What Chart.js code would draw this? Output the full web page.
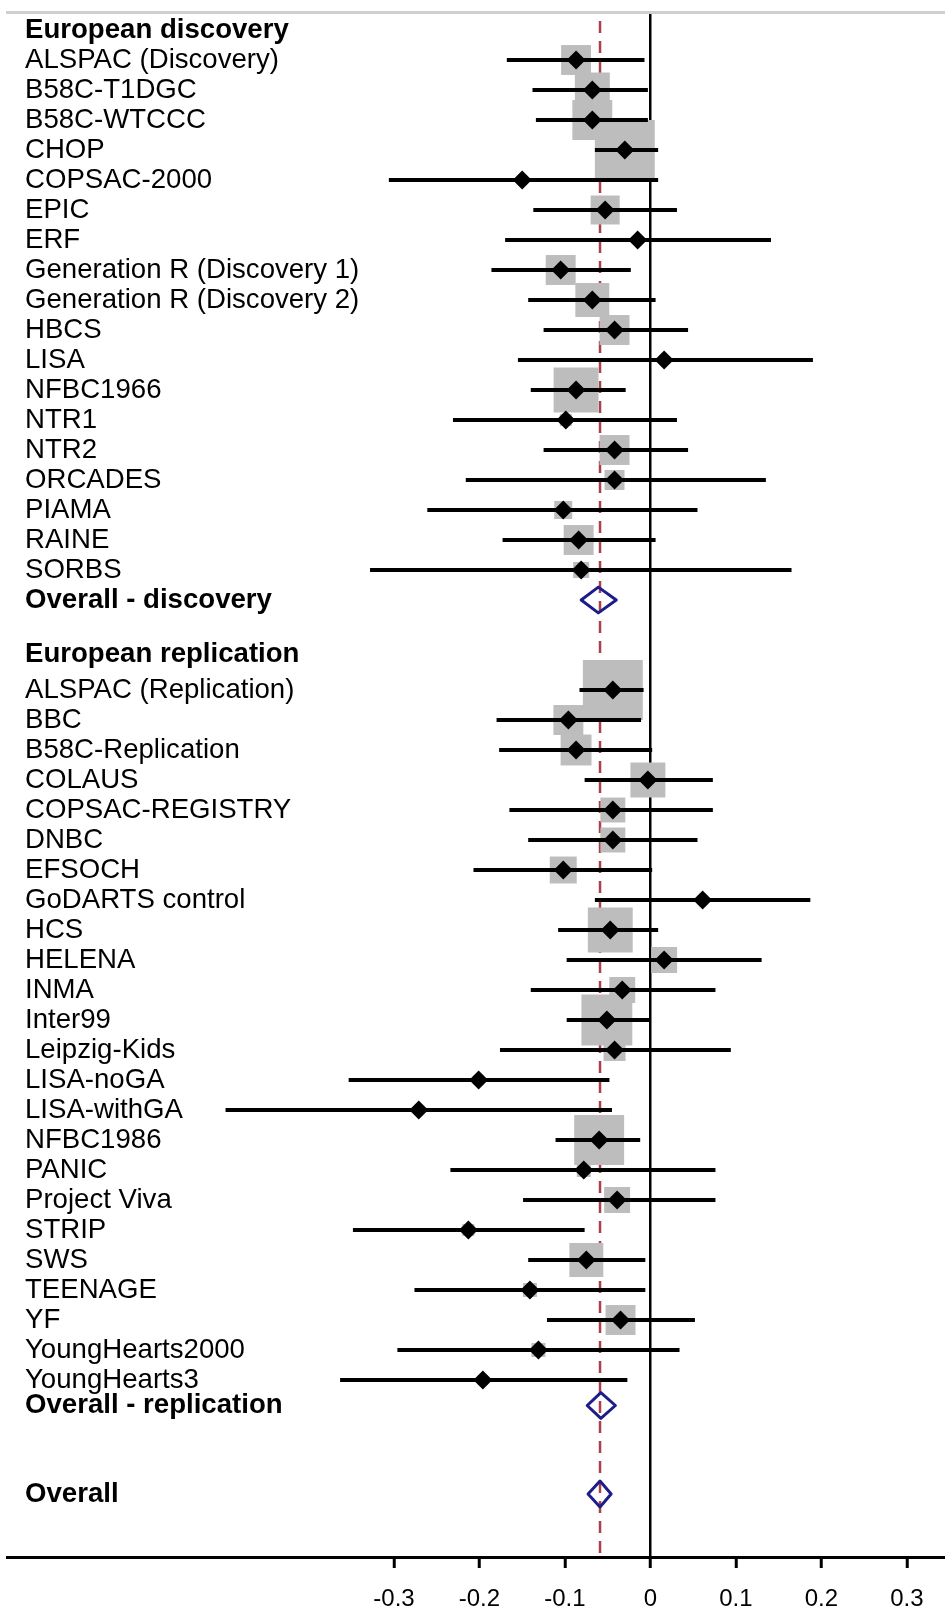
<!DOCTYPE html>
<html>
<head>
<meta charset="utf-8">
<title>Forest plot</title>
<script src="https://cdn.jsdelivr.net/npm/chart.js@4.4.1/dist/chart.umd.min.js"></script>
<style>
  html, body { margin: 0; padding: 0; background: #fff; overflow: hidden; }
  #chart-wrap { position: relative; width: 945px; height: 1613px; }
</style>
</head>
<body>
<div id="chart-wrap"><canvas id="forest-canvas"></canvas></div>
<script>
// Data --- (*1)
const groupTitles = ["European discovery", "European replication"];

const discoveryStudies = [
  "ALSPAC (Discovery)", "B58C-T1DGC", "B58C-WTCCC", "CHOP", "COPSAC-2000", "EPIC", "ERF",
  "Generation R (Discovery 1)", "Generation R (Discovery 2)", "HBCS", "LISA", "NFBC1966",
  "NTR1", "NTR2", "ORCADES", "PIAMA", "RAINE", "SORBS",
];
const discoveryEst = [-0.087, -0.068, -0.068, -0.030, -0.150, -0.053, -0.015, -0.105, -0.068, -0.042, 0.016, -0.087, -0.099, -0.042, -0.042, -0.102, -0.084, -0.081];
const discoveryLo = [-0.168, -0.138, -0.134, -0.065, -0.306, -0.137, -0.170, -0.186, -0.143, -0.125, -0.155, -0.140, -0.231, -0.125, -0.216, -0.261, -0.173, -0.328];
const discoveryHi = [-0.007, -0.003, -0.003, 0.009, 0.009, 0.031, 0.141, -0.023, 0.006, 0.044, 0.190, -0.029, 0.031, 0.044, 0.135, 0.055, 0.006, 0.165];
const discoveryWeight = [2.38, 3.24, 4.23, 9.53, 0.26, 2.23, 0.17, 2.38, 3.06, 2.38, 0.26, 5.36, 0.38, 2.38, 1.06, 0.86, 2.38, 0.68];

const replicationStudies = [
  "ALSPAC (Replication)", "BBC", "B58C-Replication", "COLAUS", "COPSAC-REGISTRY", "DNBC",
  "EFSOCH", "GoDARTS control", "HCS", "HELENA", "INMA", "Inter99", "Leipzig-Kids",
  "LISA-noGA", "LISA-withGA", "NFBC1986", "PANIC", "Project Viva", "STRIP", "SWS",
  "TEENAGE", "YF", "YoungHearts2000", "YoungHearts3",
];
const replicationEst = [-0.044, -0.096, -0.087, -0.003, -0.044, -0.044, -0.102, 0.061, -0.047, 0.016, -0.033, -0.051, -0.042, -0.201, -0.271, -0.060, -0.078, -0.039, -0.213, -0.075, -0.141, -0.035, -0.131, -0.196];
const replicationLo = [-0.083, -0.180, -0.177, -0.077, -0.165, -0.143, -0.207, -0.065, -0.108, -0.098, -0.140, -0.098, -0.176, -0.353, -0.497, -0.111, -0.234, -0.149, -0.348, -0.143, -0.276, -0.121, -0.296, -0.363];
const replicationHi = [-0.008, -0.011, 0.002, 0.073, 0.073, 0.055, 0.002, 0.187, 0.009, 0.130, 0.076, -0.001, 0.094, -0.048, -0.045, -0.012, 0.076, 0.076, -0.077, -0.006, -0.006, 0.052, 0.034, -0.027];
const replicationWeight = [9.53, 2.38, 2.54, 3.24, 1.65, 1.65, 1.93, 0.26, 5.36, 1.79, 1.79, 6.88, 1.28, 0.26, 0.17, 6.62, 0.52, 1.79, 0.38, 3.06, 0.52, 2.38, 0.52, 0.26];

const pooledLabels = ["Overall - discovery", "Overall - replication", "Overall"];
const pooledEst = [-0.061, -0.058, -0.059];
const pooledLo = [-0.081, -0.074, -0.073];
const pooledHi = [-0.040, -0.041, -0.046];

const xTickValues = [-0.3, -0.2, -0.1, 0, 0.1, 0.2, 0.3];
const xTickLabels = ["-0.3", "-0.2", "-0.1", "0", "0.1", "0.2", "0.3"];

// Layout constants (not data) --- (*2)
const FONT = '"Liberation Sans", Arial, sans-serif';
const X_MIN = -0.7526;
const X_MAX = 0.3445;
const Y_MIN = -0.6;
const Y_MAX = 50.9;
const BOX_SCALE = 19.4;      // box side in px per sqrt(weight)
const POOLED_HALF = 0.43;    // half height of pooled diamonds, in rows

// Build row list: label, vertical slot, bold or not --- (*3)
const rows = [];
const studyRows = [];
rows.push({ label: groupTitles[0], pos: 0, bold: true });
discoveryStudies.forEach((name, i) => {
  const pos = 1 + i;
  rows.push({ label: name, pos });
  studyRows.push({ pos, est: discoveryEst[i], lo: discoveryLo[i], hi: discoveryHi[i], w: discoveryWeight[i] });
});
const pooledPos = [1 + discoveryStudies.length];
rows.push({ label: pooledLabels[0], pos: pooledPos[0], bold: true });
const repStart = pooledPos[0] + 3;
rows.push({ label: groupTitles[1], pos: repStart - 1.2, bold: true });
replicationStudies.forEach((name, i) => {
  const pos = repStart + i;
  rows.push({ label: name, pos });
  studyRows.push({ pos, est: replicationEst[i], lo: replicationLo[i], hi: replicationHi[i], w: replicationWeight[i] });
});
pooledPos.push(repStart + replicationStudies.length - 0.15);
rows.push({ label: pooledLabels[1], pos: pooledPos[1], bold: true });
pooledPos.push(pooledPos[1] + 2.95);
rows.push({ label: pooledLabels[2], pos: pooledPos[2], bold: true });

// Datasets --- (*4)
function buildDatasets() {
  const sets = [];
  // dashed line at the overall estimate
  sets.push({
    data: [{ x: pooledEst[2], y: -0.3 }, { x: pooledEst[2], y: Y_MAX }],
    showLine: true, borderColor: "#a8414c", borderWidth: 2.5, borderDash: [12, 8],
    pointRadius: 0, order: 6,
  });
  // weight boxes
  sets.push({
    data: studyRows.map((r) => ({ x: r.est, y: r.pos })),
    pointStyle: "rect",
    pointRadius: (ctx) => (BOX_SCALE * Math.sqrt(studyRows[ctx.dataIndex].w)) / (2 * Math.SQRT1_2),
    backgroundColor: "#bdbdbd", borderWidth: 0, order: 5,
  });
  // confidence intervals
  studyRows.forEach((r) => {
    sets.push({
      data: [{ x: r.lo, y: r.pos }, { x: r.hi, y: r.pos }],
      showLine: true, borderColor: "#000", borderWidth: 4, borderCapStyle: "butt",
      pointRadius: 0, order: 4,
    });
  });
  // point estimates
  sets.push({
    data: studyRows.map((r) => ({ x: r.est, y: r.pos })),
    pointStyle: "rectRot", pointRadius: 9.5,
    backgroundColor: "#000", borderWidth: 0, order: 3,
  });
  // pooled diamonds
  pooledEst.forEach((est, i) => {
    const y = pooledPos[i];
    sets.push({
      data: [
        { x: pooledLo[i], y }, { x: est, y: y - POOLED_HALF },
        { x: pooledHi[i], y }, { x: est, y: y + POOLED_HALF }, { x: pooledLo[i], y },
      ],
      showLine: true, borderColor: "#1d1d8a", borderWidth: 3,
      borderJoinStyle: "round", borderCapStyle: "round",
      pointRadius: 0, fill: false, order: 1,
    });
  });
  return sets;
}

// Draw the chart --- (*5)
window.addEventListener("DOMContentLoaded", () => {
  const canvas = document.querySelector("#forest-canvas");
  new Chart(canvas, {
    type: "scatter",
    data: { datasets: buildDatasets() },
    options: {
      responsive: true,
      maintainAspectRatio: false,
      animation: false,
      events: [],
      layout: { autoPadding: false, padding: { left: 7, top: 12, right: 0, bottom: 0 } },
      plugins: { legend: { display: false }, tooltip: { enabled: false } },
      scales: {
        x: {
          type: "linear", position: "bottom", min: X_MIN, max: X_MAX,
          afterBuildTicks: (scale) => { scale.ticks = xTickValues.map((v) => ({ value: v })); },
          afterFit: (scale) => { scale.height = 56; },
          grid: {
            color: (ctx) => (ctx.tick && ctx.tick.value === 0 ? "#000" : "rgba(0,0,0,0)"),
            lineWidth: 2.5, drawTicks: true, tickLength: 11, tickColor: "#000", tickWidth: 3,
          },
          border: { display: true, color: "#000", width: 3 },
          ticks: {
            autoSkip: false, maxRotation: 0, padding: 17, color: "#000",
            font: { family: FONT, size: 24 },
            callback: (value, index) => xTickLabels[index],
          },
        },
        x2: {
          type: "linear", position: "top", min: X_MIN, max: X_MAX,
          grid: { display: false, drawTicks: false },
          ticks: { display: false },
          border: { display: true, color: "#cfcfcf", width: 3 },
        },
        y: {
          type: "linear", reverse: true, min: Y_MIN, max: Y_MAX,
          afterBuildTicks: (scale) => { scale.ticks = rows.map((r) => ({ value: r.pos })); },
          afterFit: (scale) => {
            // labels sit inside the plot, so the axis takes no room
            scale.width = 0;
            scale.paddingTop = 0;
            scale.paddingBottom = 0;
          },
          grid: { display: false, drawTicks: false },
          border: { display: false },
          ticks: {
            mirror: true, crossAlign: "near", padding: 18, autoSkip: false, color: "#000",
            font: (ctx) => ({
              family: FONT, size: 27.6,
              weight: rows[ctx.index] && rows[ctx.index].bold ? "bold" : "normal",
            }),
            callback: (value, index) => rows[index].label,
          },
        },
      },
    },
  });
});
</script>
</body>
</html>
